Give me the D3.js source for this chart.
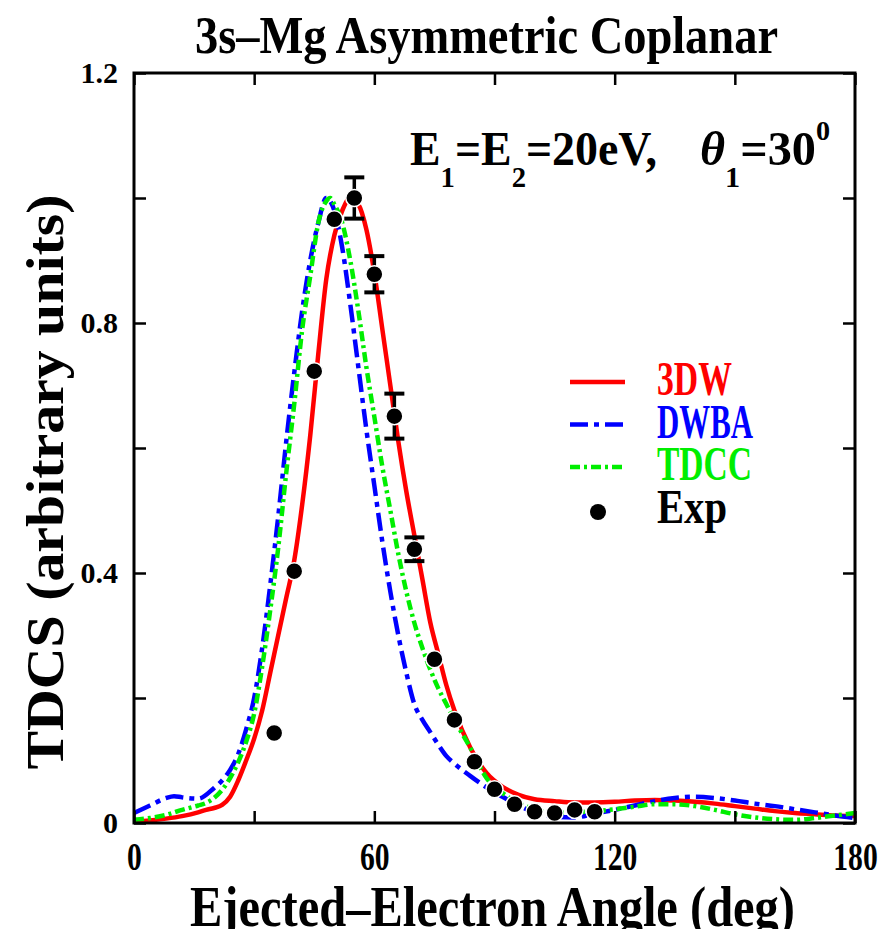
<!DOCTYPE html>
<html>
<head>
<meta charset="utf-8">
<script src="https://cdn.jsdelivr.net/npm/d3@7"></script>
<style>
body { margin: 0; background: #fff; }
svg { display: block; }
</style>
</head>
<body>
<script>
'use strict';

// theory curves, [angle (deg), TDCS]
var threeDW = [[0,0.002],[4,0.004],[8,0.007],[12,0.011],[16,0.017],[18,0.021],[20,0.024],[22,0.029],
    [24,0.042],[26,0.068],[28,0.10],[30,0.135],[32,0.18],[34,0.24],[36,0.30],[38,0.36],[40,0.42],
    [42,0.51],[44,0.62],[46,0.75],[48,0.87],[50,0.94],[52,0.98],[54,1.0],[56,0.99],[58,0.95],
    [60,0.88],[62,0.79],[64,0.70],[66,0.61],[68,0.53],[70,0.46],[72,0.39],[74,0.32],[76,0.27],
    [78,0.22],[80,0.18],[84,0.12],[88,0.08],[92,0.058],[96,0.045],[100,0.038],[105,0.035],
    [110,0.033],[115,0.033],[120,0.034],[125,0.036],[130,0.037],[135,0.036],[140,0.034],
    [145,0.031],[150,0.027],[155,0.023],[160,0.019],[165,0.016],[170,0.014],[175,0.012],[180,0.011]];

var dwba = [[0,0.016],[4,0.028],[8,0.040],[10,0.043],[12,0.041],[16,0.039],[20,0.056],[22,0.068],
    [24,0.085],[26,0.11],[28,0.15],[30,0.20],[32,0.28],[34,0.38],[36,0.49],[38,0.61],[40,0.72],
    [42,0.82],[44,0.90],[46,0.96],[48,1.0],[50,0.98],[52,0.92],[54,0.83],[56,0.73],[58,0.63],
    [60,0.54],[62,0.45],[64,0.37],[66,0.30],[68,0.24],[70,0.19],[72,0.165],[74,0.145],[76,0.125],
    [78,0.107],[80,0.095],[84,0.075],[88,0.057],[92,0.042],[96,0.028],[100,0.017],[105,0.010],
    [110,0.009],[115,0.015],[120,0.021],[125,0.028],[130,0.035],[135,0.040],[140,0.042],
    [145,0.040],[150,0.036],[155,0.031],[160,0.027],[165,0.022],[170,0.017],[175,0.012],[180,0.008]];

var tdcc = [[0,0.005],[4,0.008],[8,0.013],[12,0.021],[16,0.028],[18,0.032],[20,0.040],[22,0.053],
    [24,0.072],[26,0.097],[28,0.13],[30,0.175],[32,0.25],[34,0.34],[36,0.44],[38,0.56],[40,0.67],
    [42,0.79],[44,0.875],[46,0.96],[48,0.995],[49,1.0],[50,0.99],[52,0.96],[54,0.90],[56,0.82],
    [58,0.73],[60,0.65],[62,0.57],[64,0.50],[66,0.43],[68,0.37],[70,0.32],[72,0.28],[74,0.245],
    [76,0.215],[78,0.19],[80,0.165],[84,0.12],[88,0.072],[92,0.048],[96,0.032],[100,0.022],
    [105,0.016],[110,0.017],[115,0.019],[120,0.022],[125,0.026],[130,0.030],[135,0.030],
    [140,0.027],[145,0.021],[150,0.014],[155,0.009],[160,0.006],[165,0.005],[170,0.008],
    [175,0.012],[180,0.016]];

// experiment
var expAngle = [35, 40, 45, 50, 55, 60, 65, 70, 75, 80, 85, 90, 95, 100, 105, 110, 115];
var expTdcs  = [0.144, 0.403, 0.723, 0.966, 1.0, 0.878, 0.651, 0.438, 0.262, 0.165, 0.098,
                0.054, 0.030, 0.018, 0.016, 0.021, 0.018];
var expErr   = [0, 0, 0, 0, 0.033, 0.029, 0.036, 0.019, 0, 0, 0, 0, 0, 0, 0, 0, 0];

var xTicks = [0, 30, 60, 90, 120, 150, 180];
var yTicks = [0, 0.2, 0.4, 0.6, 0.8, 1.0, 1.2];
var xLabels = {0: "0", 60: "60", 120: "120", 180: "180"};
var yLabels = {0: "0", 0.4: "0.4", 0.8: "0.8", 1.2: "1.2"};

var models = [
    {name: "3DW",  data: threeDW, color: "#ff0000", dash: null,       width: 4.5},
    {name: "DWBA", data: dwba,    color: "#0000ff", dash: "18,6,5,6", width: 4.5},
    {name: "TDCC", data: tdcc,    color: "#00ee00", dash: "10,4,3,4", width: 4.5}
];

var FONT = "'Liberation Serif', 'Times New Roman', serif";

var svg = d3.select("body").append("svg")
        .attr("width", 880).attr("height", 929),
    x = d3.scaleLinear().domain([0, 180]).range([134, 855]),
    y = d3.scaleLinear().domain([0, 1.2]).range([823, 73]);

svg.append("defs").append("clipPath").attr("id", "plot")
    .append("rect").attr("x", 134).attr("y", 73).attr("width", 721).attr("height", 750);

// squeeze text horizontally to mimic the condensed plot font
function squeeze(sel, k) {
    sel.each(function() {
        var w = this.getComputedTextLength();
        d3.select(this).attr("textLength", w * k).attr("lengthAdjust", "spacingAndGlyphs");
    });
}

// curves
var line = d3.line()
    .x(function(d) { return x(d[0]); })
    .y(function(d) { return y(d[1]); })
    .curve(d3.curveMonotoneX);

var curves = svg.append("g").attr("clip-path", "url(#plot)");
models.forEach(function(m) {
    curves.append("path")
        .datum(m.data)
        .attr("d", line)
        .attr("fill", "none")
        .attr("stroke", m.color)
        .attr("stroke-width", m.width)
        .attr("stroke-dasharray", m.dash)
        .attr("stroke-linejoin", "round");
});

// experimental points with error bars
var pts = svg.append("g");
expAngle.forEach(function(a, i) {
    var e = expErr[i];
    if (e > 0) {
        pts.append("line")
            .attr("x1", x(a)).attr("x2", x(a))
            .attr("y1", y(expTdcs[i] - e)).attr("y2", y(expTdcs[i] + e))
            .attr("stroke", "#000").attr("stroke-width", 3.5);
        [-e, e].forEach(function(s) {
            pts.append("line")
                .attr("x1", x(a) - 10).attr("x2", x(a) + 10)
                .attr("y1", y(expTdcs[i] + s)).attr("y2", y(expTdcs[i] + s))
                .attr("stroke", "#000").attr("stroke-width", 4);
        });
    }
    pts.append("circle")
        .attr("cx", x(a)).attr("cy", y(expTdcs[i]))
        .attr("r", 8.5)
        .attr("fill", "#000")
        .attr("stroke", "#fff")
        .attr("stroke-width", 1.5);
});

// axes, ticks inward on all four sides
var axB = svg.append("g").attr("transform", "translate(0,823)")
    .call(d3.axisBottom(x).tickValues(xTicks).tickSize(-12)
        .tickFormat(function(d) { return xLabels[d] || ""; }));
var axT = svg.append("g").attr("transform", "translate(0,73)")
    .call(d3.axisTop(x).tickValues(xTicks).tickSize(-12).tickFormat(""));
var axL = svg.append("g").attr("transform", "translate(134,0)")
    .call(d3.axisLeft(y).tickValues(yTicks).tickSize(-12)
        .tickFormat(function(d) { return yLabels[d] || ""; }));
var axR = svg.append("g").attr("transform", "translate(855,0)")
    .call(d3.axisRight(y).tickValues(yTicks).tickSize(-12).tickFormat(""));

[axB, axT, axL, axR].forEach(function(ax) {
    ax.select(".domain").remove();
    ax.selectAll(".tick line").attr("stroke", "#000").attr("stroke-width", 2.5);
});

axB.selectAll("text")
    .attr("y", 47).attr("dy", 0)
    .attr("font-family", FONT).attr("font-weight", "bold")
    .attr("font-size", 40).attr("fill", "#000")
    .call(squeeze, 0.74);

axL.selectAll("text")
    .attr("x", -16).attr("dy", "0.33em")
    .attr("font-family", FONT).attr("font-weight", "bold")
    .attr("font-size", 30).attr("fill", "#000");

// frame
svg.append("rect")
    .attr("x", 134).attr("y", 73).attr("width", 721).attr("height", 750)
    .attr("fill", "none").attr("stroke", "#000").attr("stroke-width", 3);

function label(txt, px, py, size, w, anchor) {
    return svg.append("text")
        .attr("x", px).attr("y", py)
        .attr("font-family", FONT).attr("font-weight", "bold")
        .attr("font-size", size).attr("fill", "#000")
        .attr("text-anchor", anchor || "start")
        .attr("textLength", w).attr("lengthAdjust", "spacingAndGlyphs")
        .text(txt);
}

// title and axis titles
label("3s\u2013Mg  Asymmetric  Coplanar", 486.5, 53, 52, 583, "middle");
label("Ejected\u2013Electron  Angle  (deg)", 492.5, 926, 56, 605, "middle");
label("TDCS  (arbitrary  units)", 0, 0, 52, 575, "middle")
    .attr("transform", "translate(63,482) rotate(-90)");

// annotation
var ann1 = svg.append("text")
    .attr("x", 410).attr("y", 165)
    .attr("font-family", FONT).attr("font-weight", "bold")
    .attr("font-size", 48).attr("fill", "#000")
    .attr("textLength", 247).attr("lengthAdjust", "spacingAndGlyphs");
ann1.append("tspan").text("E");
ann1.append("tspan").attr("dy", 22).attr("font-size", 30).text("1");
ann1.append("tspan").attr("dy", -22).text("=E");
ann1.append("tspan").attr("dy", 22).attr("font-size", 30).text("2");
ann1.append("tspan").attr("dy", -22).text("=20eV,");

var ann2 = svg.append("text")
    .attr("x", 700).attr("y", 165)
    .attr("font-family", FONT).attr("font-weight", "bold")
    .attr("font-size", 48).attr("fill", "#000")
    .attr("textLength", 130).attr("lengthAdjust", "spacingAndGlyphs");
ann2.append("tspan").attr("font-style", "italic").text("\u03b8");
ann2.append("tspan").attr("dy", 22).attr("font-size", 30).text("1");
ann2.append("tspan").attr("dy", -22).text("=30");
ann2.append("tspan").attr("dy", -25).attr("font-size", 28).text("0");

// legend
var legW = [75, 96, 95];
models.forEach(function(m, i) {
    var ly = 382 + i * 42.5;
    svg.append("line")
        .attr("x1", 570).attr("x2", 625)
        .attr("y1", ly).attr("y2", ly)
        .attr("stroke", m.color).attr("stroke-width", m.width)
        .attr("stroke-dasharray", m.dash);
    label(m.name, 657, ly + 13, 48, legW[i]).attr("fill", m.color);
});
svg.append("circle").attr("cx", 598).attr("cy", 512).attr("r", 8).attr("fill", "#000");
label("Exp", 657, 523, 48, 70);
</script>
</body>
</html>
